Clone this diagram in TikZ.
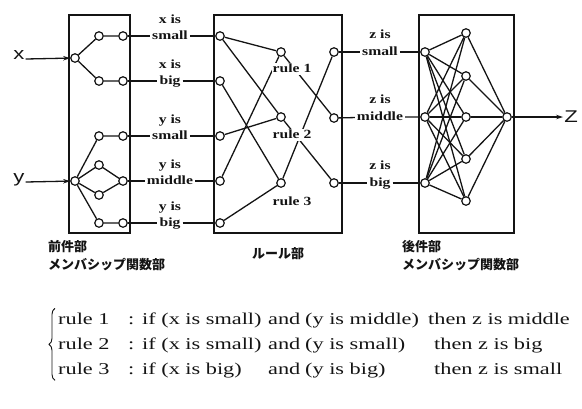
\documentclass[tikz,border=0pt]{standalone}
\usepackage{fontspec}
\usepackage{graphicx}
\setmainfont{Liberation Serif}[FakeStretch=1.35]
\newfontfamily\labfont{Liberation Serif}[FakeStretch=1.25]
\newfontfamily\iofont{Liberation Sans}[FakeStretch=1.3]
\newfontfamily\jpfont{Noto Sans CJK JP}
\definecolor{inkBlack}{HTML}{141414}
\usetikzlibrary{positioning,arrows.meta,decorations.pathreplacing}
\tikzset{
  fdot/.style={circle, draw=inkBlack, fill=white, line width=1.2pt, inner sep=0pt, minimum size=8.5pt},
  panel/.style={draw=inkBlack, line width=1.4pt},
  wire/.style={draw=inkBlack, line width=1.3pt},
  lab/.style={font=\labfont\bfseries\fontsize{12.5}{13}\selectfont, text=inkBlack, inner sep=2pt, text height=8pt, text depth=2pt},
  rulelab/.style={lab, fill=white, inner sep=1pt},
  io/.style={font=\iofont\fontsize{17}{19}\selectfont, text=inkBlack, inner sep=1pt},
  jp/.style={font=\jpfont\bfseries\fontsize{13}{15}\selectfont, text=inkBlack, anchor=west, inner sep=0pt},
  rowtxt/.style={font=\fontsize{16.5}{18}\selectfont, text=inkBlack, anchor=base west, inner sep=0pt},
  curly/.style={draw=inkBlack, line width=0.9pt, decorate, decoration={brace, amplitude=6pt}},
}
\newcommand{\fnode}[3]{\node[fdot] (#1) at (#2,#3) {};}

\begin{document}
\begin{tikzpicture}[x=1pt,y=-1pt]
\useasboundingbox (0,0) rectangle (582,408);
% three panels
\draw[panel] (69,15) rectangle (130,233);
\draw[panel] (214,15) rectangle (342,233);
\draw[panel] (419,15) rectangle (514,233);

% antecedent membership functions
\fnode{xa}{75}{58}
\fnode{xs1}{99}{36} \fnode{xs2}{123}{36}
\fnode{xb1}{99}{81} \fnode{xb2}{123}{81}
\fnode{ya}{75}{181}
\fnode{ys1}{99}{136} \fnode{ys2}{123}{136}
\fnode{ym1}{99}{165} \fnode{ym2}{99}{195} \fnode{ym3}{123}{181}
\fnode{yb1}{99}{223} \fnode{yb2}{123}{223}
\draw[wire] (xs2) -- (xs1) -- (xa) -- (xb1) -- (xb2);
\draw[wire] (ys2) -- (ys1) -- (ya) -- (yb1) -- (yb2);
\draw[wire] (ya) -- (ym1) -- (ym3) -- (ym2) -- (ya);

\node[io, anchor=base] (xlab) at (19,59) {x};
\node[io, anchor=base] (ylab) at (19,182) {y};
\draw[wire, -{Stealth[length=7pt,width=4.5pt]}] (xlab.base east) -- (xa);
\draw[wire, -{Stealth[length=7pt,width=4.5pt]}] (ylab.base east) -- (ya);

% rule part
\fnode{rxs}{220}{36} \fnode{rxb}{220}{81} \fnode{rys}{220}{136}
\fnode{rym}{220}{181} \fnode{ryb}{220}{223}
\fnode{r1}{281}{52} \fnode{r2}{281}{117} \fnode{r3}{281}{183}
\fnode{o1}{334}{52} \fnode{o2}{334}{118} \fnode{o3}{334}{183}
\draw[wire] (rxs) -- (r1);
\draw[wire] (rxs) -- (r2);
\draw[wire] (rxb) -- (r3);
\draw[wire] (rys) -- (r2);
\draw[wire] (rym) -- (r1);
\draw[wire] (ryb) -- (r3);
\draw[wire] (r1) -- (o2);
\draw[wire] (r2) -- (o3);
\draw[wire] (r3) -- (o1);
\node[rulelab] (rl1) at (292,69) {rule 1};
\node[rulelab] (rl2) at (292,135) {rule 2};
\node[rulelab] (rl3) at (292,202) {rule 3};

% input labels
\node[lab] (lxs) at (170,36) {small};
\node[lab] at (170,20) {x is};
\node[lab] (lxb) at (170,81) {big};
\node[lab] at (170,65) {x is};
\node[lab] (lys) at (170,136) {small};
\node[lab] at (170,120) {y is};
\node[lab] (lym) at (170,181) {middle};
\node[lab] at (170,165) {y is};
\node[lab] (lyb) at (170,223) {big};
\node[lab] at (170,207) {y is};
\draw[wire] (xs2) -- (lxs) -- (rxs);
\draw[wire] (xb2) -- (lxb) -- (rxb);
\draw[wire] (ys2) -- (lys) -- (rys);
\draw[wire] (ym3) -- (lym) -- (rym);
\draw[wire] (yb2) -- (lyb) -- (ryb);

% consequent membership functions
\fnode{zs}{425}{52} \fnode{zm}{425}{117} \fnode{zb}{425}{183}
\fnode{m1}{466}{33} \fnode{m2}{466}{76} \fnode{m3}{466}{117}
\fnode{m4}{466}{159} \fnode{m5}{466}{201}
\fnode{zo}{507}{117}
\foreach \a in {zs,zm,zb}
  \foreach \b in {m1,m2,m3,m4,m5}
    \draw[wire] (\a) -- (\b);
\foreach \b in {m1,m2,m3,m4,m5}
  \draw[wire] (\b) -- (zo);

\node[lab] (lzs) at (380,52) {small};
\node[lab] at (380,35) {z is};
\node[lab] (lzm) at (380,117) {middle};
\node[lab] at (380,100) {z is};
\node[lab] (lzb) at (380,183) {big};
\node[lab] at (380,166) {z is};
\draw[wire] (o1) -- (lzs) -- (zs);
\draw[wire] (o2) -- (lzm) -- (zm);
\draw[wire] (o3) -- (lzb) -- (zb);

\node[io] (zlab) at (571,117) {Z};
\draw[wire, -{Stealth[length=7pt,width=4.5pt]}] (zo) -- (zlab);

% captions
\node[jp] (cap1a) at (48,247) {前件部};
\node[jp] (cap1b) at (48,265) {メンバシップ関数部};
\node[jp, anchor=center] (cap2) at (278,254) {ルール部};
\node[jp] (cap3a) at (402,247) {後件部};
\node[jp] (cap3b) at (402,265) {メンバシップ関数部};

% rule list
\foreach \n/\yy/\ca/\cb/\tx/\cc in {
  1/324/{if (x is small)}/{(y is middle)}/428/{then z is middle},
  2/349/{if (x is small)}/{(y is small)}/434/{then z is big},
  3/374/{if (x is big)}/{(y is big)}/434/{then z is small}}{
  \node[rowtxt] (rn\n) at (58,\yy) {rule \n};
  \node[rowtxt] (rc\n) at (128,\yy) {:};
  \node[rowtxt] (ra\n) at (142,\yy) {\ca};
  \node[rowtxt] (rd\n) at (268,\yy) {and};
  \node[rowtxt] (rb\n) at (305,\yy) {\cb};
  \node[rowtxt] (rt\n) at (\tx,\yy) {\cc};
}
\draw[curly] ([xshift=-3pt,yshift=-6pt]rn3.south west) -- ([xshift=-3pt,yshift=4pt]rn1.north west);
\end{tikzpicture}
\end{document}
